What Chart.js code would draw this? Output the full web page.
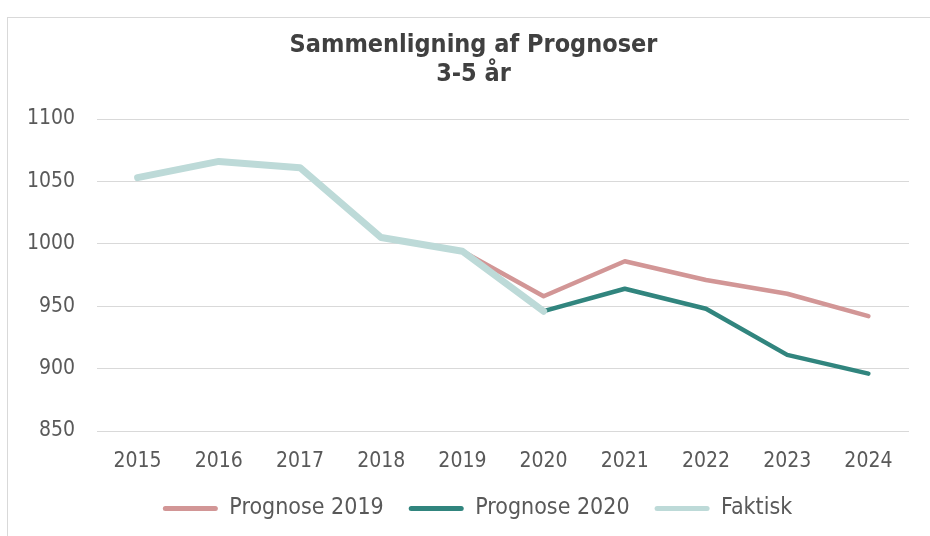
<!DOCTYPE html>
<html>
<head>
<meta charset="utf-8">
<script src="https://cdn.jsdelivr.net/npm/chart.js@4.4.1/dist/chart.umd.min.js"></script>
<style>
  html, body { margin: 0; padding: 0; background: #fff; overflow: hidden; }
  /* light frame round the chart, like the excel chart box */
  #frame { position: absolute; left: 7px; top: 17px; width: 1000px; height: 600px; border: 1px solid #d9d9d9; }
  #prognose_chart { position: absolute; left: 0; top: 0; }
</style>
</head>
<body>
<div id="frame"></div>
<canvas id="prognose_chart" width="930" height="536"></canvas>
<script>
// data
const years = ['2015', '2016', '2017', '2018', '2019', '2020', '2021', '2022', '2023', '2024'];
const prognose2019 = [null, null, null, null, 994, 958, 986, 971, 960, 942];
const prognose2020 = [null, null, null, null, null, 946, 964, 948, 911, 896];
const faktisk = [1053, 1066, 1061, 1005, 994, 946, null, null, null, null];
const yTicks = [850, 900, 950, 1000, 1050, 1100];

const font = 'DejaVu Sans Condensed';
const textColor = '#595959';

// excel centres title and legend on the whole box, not the plot - nudge them right a bit
const nudgeBlocks = {
    id: 'nudgeBlocks',
    afterLayout(chart) {
        chart.titleBlock.left += 19;
        chart.titleBlock.right += 19;
        chart.legend.left += 23;
        chart.legend.right += 23;
    }
};

const ctx = document.getElementById('prognose_chart');
new Chart(ctx, {
    type: 'line',
    data: {
        labels: years,
        datasets: [
            {label: 'Prognose 2019',
            data: prognose2019,
            borderColor: '#D29696',
            backgroundColor: '#D29696',
            borderWidth: 4.5,
            order: 2
            },
            {label: 'Prognose 2020',
            data: prognose2020,
            borderColor: '#31857E',
            backgroundColor: '#31857E',
            borderWidth: 4.5,
            order: 1
            },
            {label: 'Faktisk',
            data: faktisk,
            borderColor: '#BDDAD8',
            backgroundColor: '#BDDAD8',
            borderWidth: 7,
            order: 0  // faktisk sits on top of the forecasts
            }
        ]
    },
    plugins: [nudgeBlocks],
    options: {
        responsive: false,
        animation: false,
        layout: {
            padding: {left: 0, right: 21, top: 17, bottom: 6}
        },
        elements: {
            line: {tension: 0, borderJoinStyle: 'round', borderCapStyle: 'round', fill: false},
            point: {radius: 0, hoverRadius: 0}
        },
        plugins: {
            tooltip: {enabled: false},
            title: {
                display: true,
                text: ['Sammenligning af Prognoser', '3-5 år'],
                color: '#404040',
                font: {family: font, size: 25, weight: 'bold', lineHeight: 1.16},
                padding: {top: 14, bottom: 30}
            },
            legend: {
                position: 'bottom',
                labels: {
                    color: textColor,
                    font: {family: font, size: 23},
                    boxWidth: 55,
                    boxHeight: 5,
                    useBorderRadius: true,
                    borderRadius: 2.5,
                    padding: 25,
                    // keep legend in dataset order even though draw order differs
                    sort: (a, b) => a.datasetIndex - b.datasetIndex,
                    generateLabels: chart => Chart.defaults.plugins.legend.labels.generateLabels(chart)
                        .map(item => ({...item, lineWidth: 0}))
                }
            }
        },
        scales: {
            x: {
                offset: true,
                grid: {display: false},
                border: {display: false},
                ticks: {
                    color: textColor,
                    padding: 10,
                    maxRotation: 0,
                    font: {family: font, size: 21}
                },
                afterFit: scale => { scale.height = 41; }
            },
            y: {
                min: yTicks[0],
                max: yTicks[yTicks.length - 1],
                grid: {color: '#d9d9d9', lineWidth: 1, drawTicks: false},
                border: {display: false},
                ticks: {
                    stepSize: yTicks[1] - yTicks[0],
                    color: textColor,
                    padding: 22,
                    font: {family: font, size: 21},
                    callback: value => String(value)  // no thousands separator
                },
                afterFit: scale => { scale.width = 97; }
            }
        }
    }
});
</script>
</body>
</html>
